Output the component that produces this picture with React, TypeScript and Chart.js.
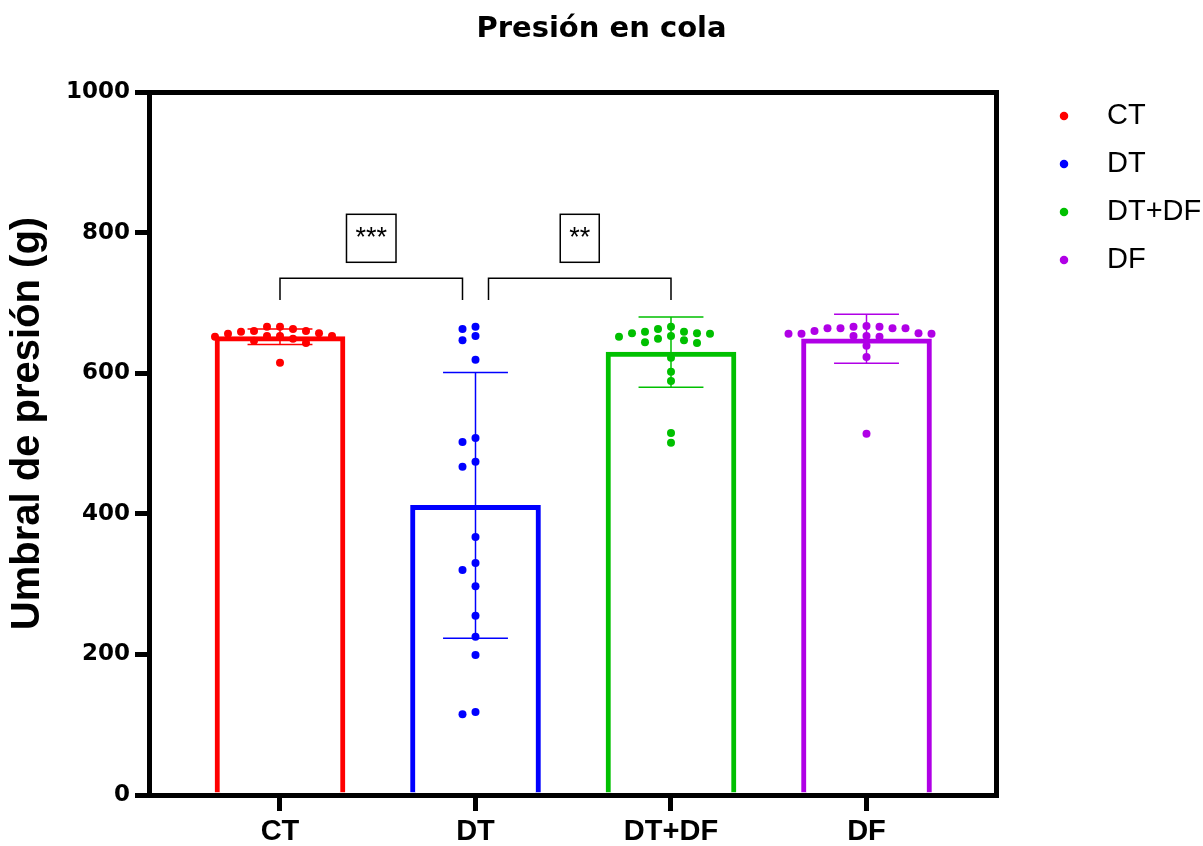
import { useEffect, useRef } from 'react';
import { Chart, registerables } from 'chart.js';

Chart.register(...registerables);

// ---- data ----
const GROUPS = ['CT', 'DT', 'DT+DF', 'DF'];
const MEANS = [652, 412, 630, 649];
const SDS = [11, 189, 50, 35];

const CT_VALUES = [659, 666, 660, 646, 653, 656, 643, 615, 660, 649, 663, 652, 653, 666, 653, 657];
const DT_VALUES = [663, 666, 647, 653, 619, 508, 502, 474, 467, 367, 330, 320, 297, 255, 225, 199, 115, 118];
const DTDF_VALUES = [657, 657, 656, 644, 652, 622, 589, 659, 643, 602, 663, 649, 659, 647, 666, 653, 515, 501];
const DF_VALUES = [667, 656, 660, 666, 656, 666, 652, 664, 653, 639, 623, 664, 653, 657, 664, 664, 656, 514];
const SERIES = [CT_VALUES, DT_VALUES, DTDF_VALUES, DF_VALUES];

const Y_MAX = 1000;
const Y_STEP = 200;

// significance comparisons (group index pairs) and their labels
const COMPARISON_PAIRS = [[0, 1], [1, 2]];
const COMPARISON_LABELS = ['***', '**'];
const BRACKET_LEVEL = 735;
const BRACKET_DROP = 31;

// ---- style ----
const COLORS = ['#FF0000', '#0000FF', '#00C000', '#B000E6'];
const W = 1203;
const H = 846;
const PLOT_RIGHT = 996;
const X_MIN = -0.6675;
const X_MAX = 3.6624;
const ERROR_CAP = 0.166;
const SWARM_STEP = 13;
const SWARM_GAP = 7.8;
const BRACKET_SPLIT = 13;
const SANS = '"Liberation Sans", Arial, Helvetica, sans-serif';
const DEJAVU = '"DejaVu Sans", Verdana, sans-serif';

// Greedy beeswarm in pixel space: each point takes the closest free column slot.
function swarmOffsets(py: number[], step: number, gap: number): number[] {
  const order = py.map((_, i) => i).sort((a, b) => py[a] - py[b]);
  const placed: Array<[number, number]> = [];
  const out: number[] = new Array(py.length).fill(0);
  for (const i of order) {
    for (let k = 0; k < 200; k++) {
      const slot = k === 0 ? 0 : (k % 2 ? -1 : 1) * Math.ceil(k / 2);
      const x = slot * step;
      if (placed.every(([px, yy]) => Math.hypot(px - x, yy - py[i]) >= gap)) {
        out[i] = x;
        placed.push([x, py[i]]);
        break;
      }
    }
  }
  return out;
}

function errorBarPath(g: number) {
  const lo = MEANS[g] - SDS[g];
  const hi = MEANS[g] + SDS[g];
  return [
    { x: g - ERROR_CAP, y: hi }, { x: g + ERROR_CAP, y: hi }, { x: g, y: null },
    { x: g, y: hi }, { x: g, y: lo }, { x: g, y: null },
    { x: g - ERROR_CAP, y: lo }, { x: g + ERROR_CAP, y: lo },
  ];
}

const significancePlugin = {
  id: 'significance',
  afterDatasetsDraw(chart: any) {
    const { ctx } = chart;
    const xs = chart.scales.x;
    const ys = chart.scales.y;
    const isShared = (g: number) => COMPARISON_PAIRS.filter((p) => p.includes(g)).length > 1;
    ctx.save();
    COMPARISON_PAIRS.forEach(([a, b], k) => {
      let x1 = xs.getPixelForValue(a);
      let x2 = xs.getPixelForValue(b);
      if (isShared(a)) x1 += BRACKET_SPLIT;
      if (isShared(b)) x2 -= BRACKET_SPLIT;
      const yTop = ys.getPixelForValue(BRACKET_LEVEL);
      const yLeg = ys.getPixelForValue(BRACKET_LEVEL - BRACKET_DROP);
      ctx.strokeStyle = '#000';
      ctx.lineWidth = 1.5;
      ctx.beginPath();
      ctx.moveTo(x1, yLeg);
      ctx.lineTo(x1, yTop);
      ctx.lineTo(x2, yTop);
      ctx.lineTo(x2, yLeg);
      ctx.stroke();

      const label = COMPARISON_LABELS[k];
      ctx.font = `27px ${SANS}`;
      const bw = ctx.measureText(label).width + 18;
      const bh = 48;
      const cx = (x1 + x2) / 2;
      const bottom = yTop - 16;
      ctx.fillStyle = '#fff';
      ctx.fillRect(cx - bw / 2, bottom - bh, bw, bh);
      ctx.strokeRect(cx - bw / 2, bottom - bh, bw, bh);
      ctx.fillStyle = '#000';
      ctx.textAlign = 'center';
      ctx.textBaseline = 'middle';
      ctx.fillText(label, cx, bottom - bh / 2);
    });
    ctx.restore();
  },
};

export default function App() {
  const ref = useRef<HTMLCanvasElement | null>(null);

  useEffect(() => {
    if (!ref.current) return;

    const scatterSets = SERIES.map((vals, g) => ({
      type: 'scatter',
      label: GROUPS[g],
      data: vals.map((v) => ({ x: g, y: v })),
      backgroundColor: COLORS[g],
      borderColor: COLORS[g],
      pointRadius: 4,
      pointHoverRadius: 4,
      pointBorderWidth: 0,
      borderWidth: 0,
      showLine: false,
      order: 0,
    }));

    const errorSets = GROUPS.map((name, g) => ({
      type: 'line',
      label: `${name} SD`,
      data: errorBarPath(g),
      borderColor: COLORS[g],
      borderWidth: 1.5,
      pointRadius: 0,
      fill: false,
      tension: 0,
      spanGaps: false,
      order: 1,
    }));

    const barSet = {
      type: 'bar',
      label: 'Media',
      data: MEANS.map((m, g) => ({ x: g, y: m })),
      backgroundColor: '#FFFFFF',
      borderColor: COLORS,
      borderWidth: 5,
      borderSkipped: 'bottom',
      barThickness: 130,
      order: 2,
    };

    const chart = new Chart(ref.current, {
      type: 'bar',
      data: { datasets: [...scatterSets, ...errorSets, barSet] as any },
      plugins: [significancePlugin],
      options: {
        responsive: false,
        animation: false,
        devicePixelRatio: 1,
        events: [],
        layout: { padding: 0 },
        plugins: {
          tooltip: { enabled: false },
          title: {
            display: true,
            text: 'Presión en cola',
            color: '#000',
            font: { family: DEJAVU, size: 29, weight: 'bold' },
            padding: { top: 12, bottom: 45.2 },
          },
          legend: {
            display: true,
            position: 'right',
            align: 'start',
            maxWidth: 172,
            title: { display: true, text: '', font: { size: 10 }, padding: { top: 70.5, bottom: 0 } },
            labels: {
              usePointStyle: true,
              pointStyle: 'circle',
              boxWidth: 28,
              boxHeight: 6,
              padding: 19,
              color: '#000',
              font: { family: SANS, size: 29 },
              generateLabels: (c: any) =>
                Chart.defaults.plugins.legend.labels
                  .generateLabels(c)
                  .filter((item: any) => item.datasetIndex < GROUPS.length)
                  .map((item: any) => ({ ...item, text: '\u2002' + item.text })),
            },
          },
        },
        scales: {
          x: {
            type: 'linear',
            position: 'bottom',
            min: X_MIN,
            max: X_MAX,
            offset: false,
            afterBuildTicks: (scale: any) => {
              scale.ticks = GROUPS.map((_, g) => ({ value: g }));
            },
            afterFit: (scale: any) => {
              scale.height = H - 795;
            },
            ticks: {
              autoSkip: false,
              maxRotation: 0,
              padding: 4,
              color: '#000',
              font: { family: SANS, size: 29, weight: 'bold' },
              callback: (v: any) => GROUPS[v] ?? '',
            },
            grid: {
              display: true,
              offset: false,
              drawOnChartArea: false,
              drawTicks: true,
              tickLength: 16,
              tickWidth: 5,
              tickColor: '#000',
              lineWidth: 5,
              color: '#000',
            },
            border: { display: true, width: 5, color: '#000' },
          },
          y: {
            type: 'linear',
            position: 'left',
            min: 0,
            max: Y_MAX,
            afterFit: (scale: any) => {
              scale.width = 149.5;
            },
            ticks: {
              stepSize: Y_STEP,
              padding: 5,
              color: '#000',
              font: { family: DEJAVU, size: 23, weight: 'bold' },
              callback: (v: any) => String(v),
            },
            grid: {
              display: true,
              drawOnChartArea: false,
              drawTicks: true,
              tickLength: 14.5,
              tickWidth: 5,
              tickColor: '#000',
              lineWidth: 5,
              color: '#000',
            },
            border: { display: true, width: 5, color: '#000' },
            title: {
              display: true,
              text: '\u2003Umbral de presión (g)',
              color: '#000',
              font: { family: SANS, size: 40, weight: 'bold' },
              padding: { top: 4, bottom: 0 },
            },
          },
          x2: {
            type: 'linear',
            position: 'top',
            display: true,
            afterFit: (scale: any) => {
              scale.height = 0;
            },
            ticks: { display: false },
            grid: { display: false, drawTicks: false },
            border: { display: true, width: 5, color: '#000' },
          },
          y2: {
            type: 'linear',
            position: 'right',
            display: true,
            afterFit: (scale: any) => {
              const legendWidth = scale.chart.legend ? scale.chart.legend.width : 0;
              scale.width = Math.max(0, scale.chart.width - PLOT_RIGHT - legendWidth);
            },
            ticks: { display: false },
            grid: { display: false, drawTicks: false },
            border: { display: true, width: 5, color: '#000' },
          },
        },
      } as any,
    });

    // spread the individual points horizontally into a swarm around each group centre
    const xs: any = chart.scales.x;
    const ys: any = chart.scales.y;
    const unit = xs.getPixelForValue(1) - xs.getPixelForValue(0);
    SERIES.forEach((vals, g) => {
      const py = vals.map((v) => ys.getPixelForValue(v));
      const off = swarmOffsets(py, SWARM_STEP, SWARM_GAP);
      chart.data.datasets[g].data = vals.map((v, i) => ({ x: g + off[i] / unit, y: v })) as any;
    });
    chart.update('none');

    return () => chart.destroy();
  }, []);

  return (
    <div style={{ position: 'fixed', left: 0, top: 0, width: W, height: H, background: '#fff' }}>
      <canvas ref={ref} width={W} height={H} style={{ display: 'block', width: W, height: H }} />
    </div>
  );
}
